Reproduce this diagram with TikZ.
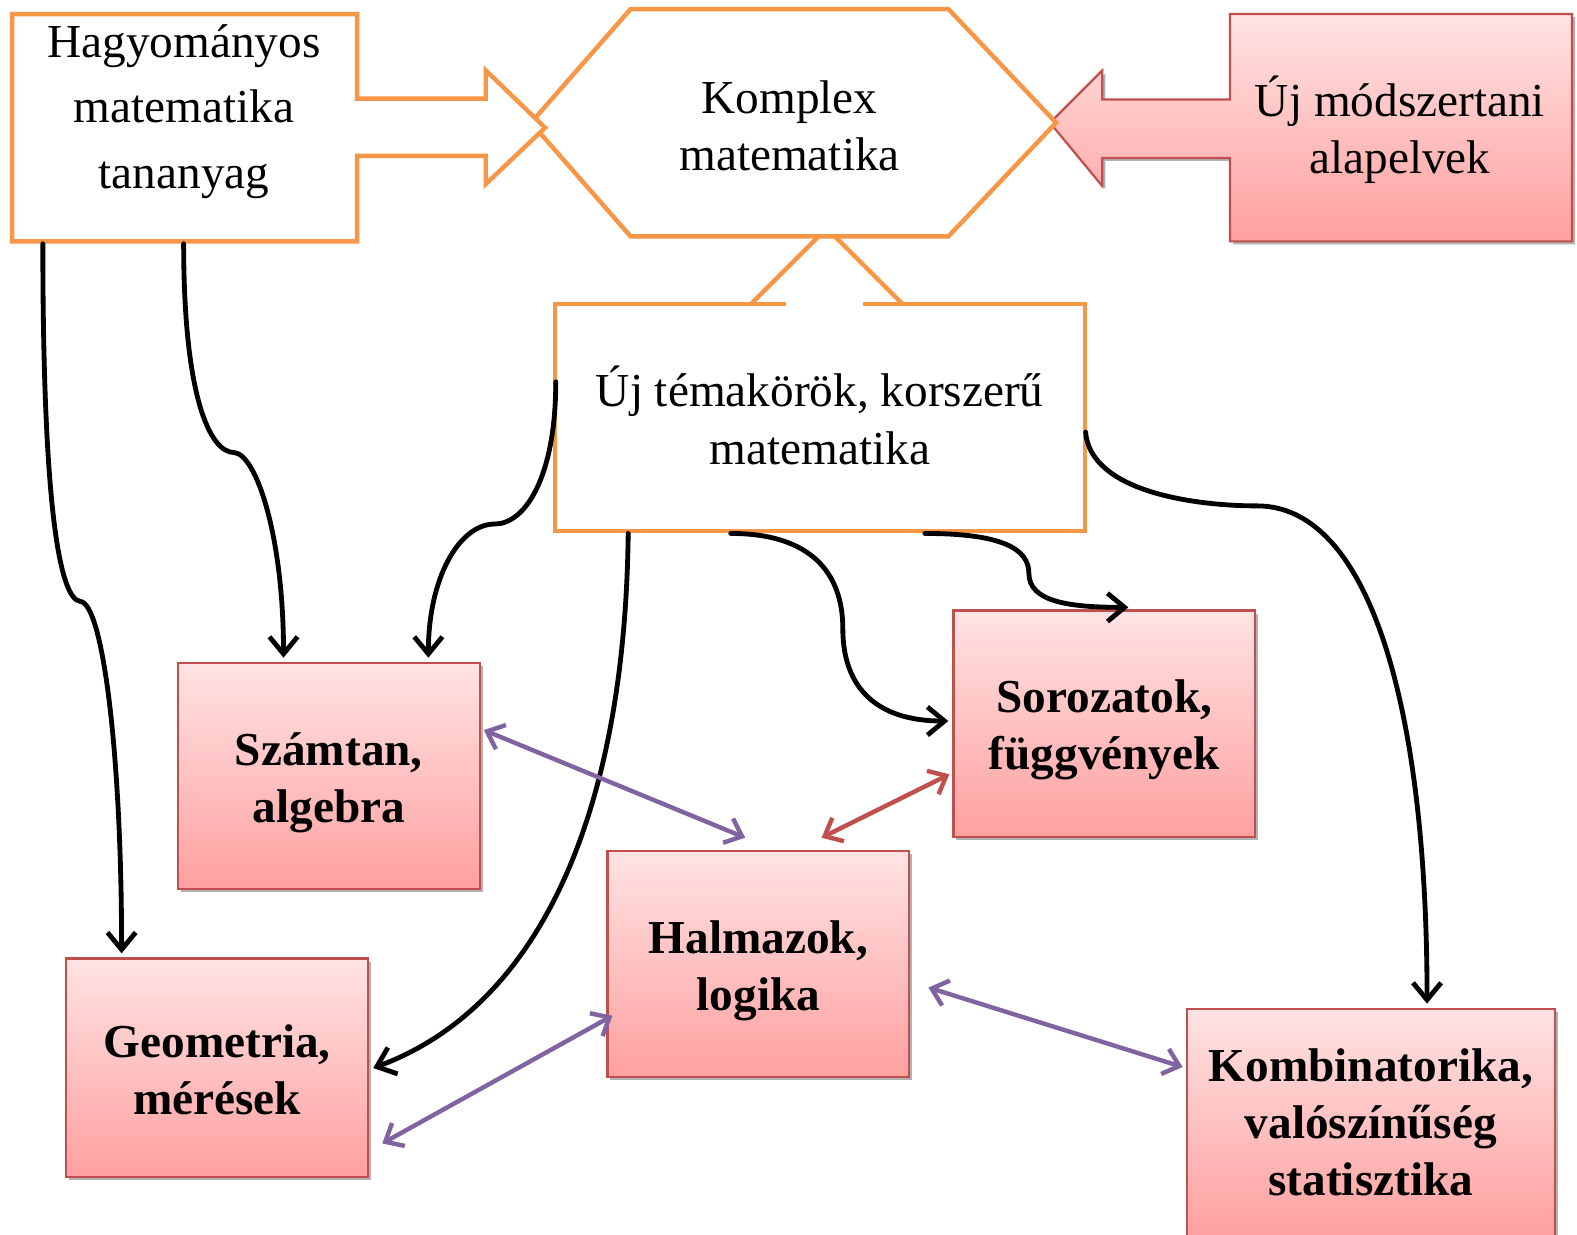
\documentclass[tikz,border=0pt]{standalone}
\usepackage{fontspec}
\setmainfont{Liberation Serif}
\usetikzlibrary{arrows.meta,calc,fit,shadows}
\definecolor{orng}{RGB}{247,150,70}
\definecolor{pbord}{RGB}{192,80,77}
\definecolor{ptop}{RGB}{255,227,227}
\definecolor{pbot}{RGB}{255,160,160}
\definecolor{purp}{RGB}{128,100,162}
\definecolor{redar}{RGB}{192,80,77}
\begin{document}
\begin{tikzpicture}[x=0.5pt,y=-0.5pt,
  oline/.style={draw=orng, line width=2.2pt, line join=miter, fill=white},
  pshape/.style={draw=pbord, line width=1.1pt, top color=ptop, bottom color=pbot,
    drop shadow={shadow xshift=1.5pt, shadow yshift=-1.5pt, opacity=0.3, fill=black}},
  region/.style={inner sep=0pt, draw=none},
  pbox/.style={region, pshape},
  txt/.style={font=\fontsize{23.5}{28.5}\selectfont, align=center, inner sep=0pt},
  btxt/.style={font=\fontsize{23.5}{28.5}\selectfont\bfseries, align=center, inner sep=0pt},
  blk/.style={draw=black, line width=2.4pt, line cap=round, -{Straight Barb[length=8.5pt,width=14pt]}},
  dbl/.style={line width=2.2pt, line cap=round, {Straight Barb[length=7.5pt,width=13pt]}-{Straight Barb[length=7.5pt,width=13pt]}}
]
\useasboundingbox (0,0) rectangle (1568,1227);
\fill[white] (0,0) rectangle (1568,1227);

% right pink arrow box
\path[pshape] (1223,14) -- (1563,14) -- (1563,240) -- (1223,240) -- (1223,157) -- (1096,157)
  -- (1096,185) -- (1044,122) -- (1096,70) -- (1096,99) -- (1223,99) -- cycle;
\node[region, fit={(1223,14)(1563,240)}] (ujm) {};

% "Uj temakorok" box with up arrow
\node[region, fit={(552,302)(1079,528)}] (uj) {};
\fill[white] (uj.south west) rectangle (uj.north east);
\draw[orng, line width=2.2pt, line join=miter] (782,302) -- (552,302) -- (552,528) -- (1079,528) -- (1079,302) -- (858,302);
\draw[orng, line width=2.2pt, line join=miter] (747,302) -- (822,227) -- (897,302);

% hexagon
\path[oline] (627,9) -- (943,9) -- (1050,122) -- (943,235) -- (627,235) -- (528,122) -- cycle;
\node[region, fit={(528,9)(1050,235)}] (komp) {};

% top-left arrow box
\path[oline] (12,14) -- (355,14) -- (355,98) -- (483,98) -- (483,70) -- (542,127)
  -- (483,183) -- (483,155) -- (355,155) -- (355,240) -- (12,240) -- cycle;
\node[region, fit={(12,14)(355,240)}] (hagy) {};

% pink boxes
\node[pbox, fit={(177,659)(477,884)}] (szam) {};
\node[pbox, fit={(948,607)(1248,832)}] (sor) {};
\node[pbox, fit={(604,846)(904,1071)}] (halm) {};
\node[pbox, fit={(66,953)(366,1170)}] (geom) {};
\node[pbox, fit={(1180,1003)(1546,1229)}] (komb) {};

% kink coordinates
\coordinate (kA) at (80,598);
\coordinate (kB) at (233,450);
\coordinate (kC) at (492,521);
\coordinate (kE) at (838,625);
\coordinate (kF) at (1023,570);
\coordinate (kG) at (1250,503);

% black curved connectors
\draw[blk] ($(hagy.south west)+(31,2)$) .. controls +(0,250) and +(-22,-2) .. (kA)
  .. controls +(22,2) and +(0,-200) .. ($(geom.north west)+(56,-4)$);
\draw[blk] ($(hagy.south west)+(171,2)$) .. controls +(0,150) and +(-25,0) .. (kB)
  .. controls +(22,2) and +(0,-120) .. ($(szam.north west)+(106,-4)$);
\draw[blk] ($(uj.north west)+(1,78)$) .. controls +(0,95) and +(30,0) .. (kC)
  .. controls +(-35,0) and +(0,-80) .. ($(szam.north west)+(250,-4)$);
\draw[blk] ($(uj.south west)+(73,2)$) .. controls +(-3,270) and +(170,-63) .. ($(geom.north east)+(4,110)$);
\draw[blk] ($(uj.south west)+(175,2)$) .. controls +(80,0) and +(0,-55) .. (kE)
  .. controls +(0,60) and +(-70,0) .. ($(sor.north west)+(-4,111)$);
\draw[blk] ($(uj.south west)+(368,2)$) .. controls +(75,0) and +(0,-25) .. (kF)
  .. controls +(0,28) and +(-60,0) .. ($(sor.north west)+(175,-2)$);
\draw[blk] ($(uj.north east)+(0,128)$) .. controls +(5,60) and +(-60,0) .. (kG)
  .. controls +(110,0) and +(0,-300) .. ($(komb.north west)+(240,-4)$);

% colored double arrows
\draw[dbl, purp] ($(szam.north east)+(3,68)$) -- ($(halm.north west)+(138,-12)$);
\draw[dbl, redar] ($(sor.north west)+(-3,164)$) -- ($(halm.north west)+(214,-12)$);
\draw[dbl, purp] ($(halm.north west)+(6,165)$) -- ($(geom.north east)+(13,185)$);
\draw[dbl, purp] ($(halm.north east)+(18,137)$) -- ($(komb.north west)+(-3,59)$);

% texts
\node[txt, font=\fontsize{23.5}{32.5}\selectfont] (hagyT) at (183,111) {Hagyományos\\matematika\\tananyag};
\node[txt] (kompT) at (785,125) {Komplex\\matematika};
\node[txt] (ujmT) at (1392,129) {Új módszertani\\alapelvek};
\node[txt] (ujT) at (815,413) {Új témakörök, korszerű\\matematika};
\node[btxt] (szamT) at ($(szam.center)+(0,7)$) {Számtan,\\algebra};
\node[btxt] (sorT) at ($(sor.center)+(0,6)$) {Sorozatok,\\függvények};
\node[btxt] (halmT) at ($(halm.center)+(0,7)$) {Halmazok,\\logika};
\node[btxt] (geomT) at ($(geom.center)+(0,2)$) {Geometria,\\mérések};
\node[btxt] (kombT) at ($(komb.center)+(0,0)$) {Kombinatorika,\\valószínűség\\statisztika};
\end{tikzpicture}
\end{document}
